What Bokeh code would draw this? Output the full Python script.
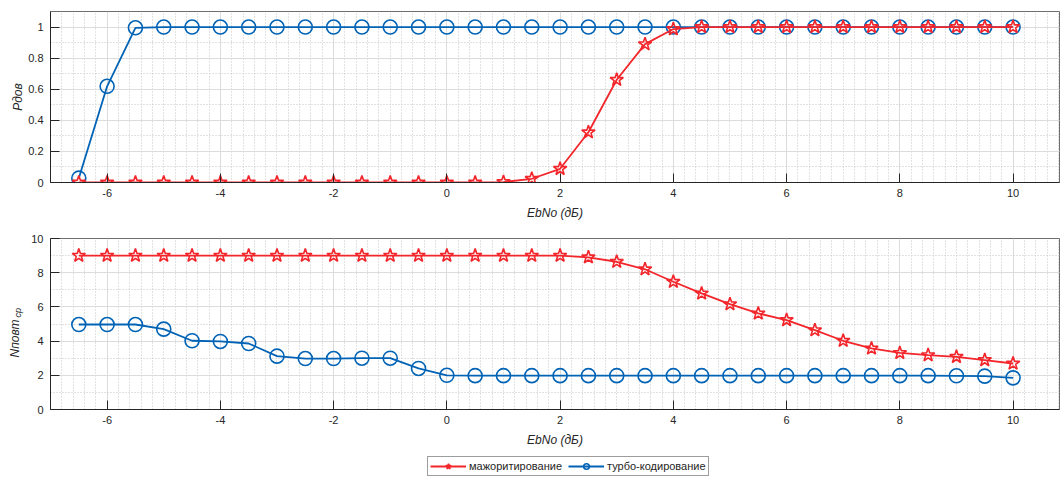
import numpy as np
from bokeh.plotting import figure
from bokeh.layouts import column
from bokeh.models import (FixedTicker, Legend, LegendItem, Title, Range1d)
from bokeh.embed import file_html
from bokeh.resources import INLINE

# ---------------- data ----------------
ebno = [-6.5, -6, -5.5, -5, -4.5, -4, -3.5, -3, -2.5, -2, -1.5, -1, -0.5, 0,
        0.5, 1, 1.5, 2, 2.5, 3, 3.5, 4, 4.5, 5, 5.5, 6, 6.5, 7, 7.5, 8, 8.5,
        9, 9.5, 10]

p_major = [0, 0, 0, 0, 0, 0, 0, 0, 0, 0, 0, 0, 0, 0,
           0, 0.003, 0.024, 0.088, 0.323, 0.661, 0.89, 0.987, 1, 1, 1, 1, 1, 1, 1, 1, 1,
           1, 1, 1]
p_turbo = [0.028, 0.619, 0.995, 1, 1, 1, 1, 1, 1, 1, 1, 1, 1, 1,
           1, 1, 1, 1, 1, 1, 1, 1, 1, 1, 1, 1, 1, 1, 1, 1, 1,
           1, 1, 1]

n_major = [9, 9, 9, 9, 9, 9, 9, 9, 9, 9, 9, 9, 9, 9,
           9, 9, 9, 9, 8.9, 8.64, 8.2, 7.47, 6.79, 6.16, 5.62, 5.23, 4.64, 4.02, 3.57, 3.31, 3.18,
           3.08, 2.89, 2.69]
n_turbo = [4.97, 4.97, 4.97, 4.7, 4.02, 3.98, 3.86, 3.12, 2.98, 2.98, 3.0, 3.0, 2.4, 2.0,
           1.98, 1.98, 1.98, 1.98, 1.98, 1.98, 1.98, 1.98, 1.98, 1.98, 1.98, 1.98, 1.98, 1.98, 1.98, 1.98, 1.98,
           1.97, 1.95, 1.85]

x_ticks = [-6, -4, -2, 0, 2, 4, 6, 8, 10]
p_ticks = [0, 0.2, 0.4, 0.6, 0.8, 1]
n_ticks = [0, 2, 4, 6, 8, 10]

series_names = ["мажоритирование", "турбо-кодирование"]
x_label = "EbNo (дБ)"
p_label = "Pдов"
n_label_main = "Nповт"
n_label_sub = "ср"

RED = "#F2262B"
BLUE = "#0063B5"
FONT = "Liberation Sans"
TXT = "#262626"

X0, X1 = -7, 10.82


def style(p, yticks, yminor):
    p.xaxis.ticker = FixedTicker(ticks=x_ticks, minor_ticks=list(np.round(np.arange(-7, 11.01, 0.2), 2)))
    p.yaxis.ticker = FixedTicker(ticks=yticks, minor_ticks=yminor)
    p.xaxis.major_label_overrides = {t: str(t) for t in x_ticks if t < 0}
    for ax in p.xaxis + p.yaxis:
        ax.major_tick_in = 9
        ax.major_tick_out = 0
        ax.minor_tick_in = 0
        ax.minor_tick_out = 0
        ax.axis_line_color = TXT
        ax.major_tick_line_color = TXT
        ax.major_label_text_font = FONT
        ax.major_label_text_font_size = "11px"
        ax.major_label_text_color = TXT
        ax.axis_label_text_font = FONT
        ax.axis_label_text_font_size = "12px"
        ax.axis_label_text_font_style = "italic"
        ax.axis_label_text_color = TXT
    p.xaxis.major_label_standoff = 6
    p.yaxis.major_label_standoff = 7
    p.xaxis.axis_label_standoff = 6
    p.yaxis.axis_label_standoff = 0
    for g in (p.xgrid[0], p.ygrid[0]):
        g.grid_line_color = "#DCDCDC"
        g.grid_line_width = 1
        g.minor_grid_line_color = "#C4C4C4"
        g.minor_grid_line_dash = "1 2"
        g.minor_grid_line_width = 1
    p.outline_line_color = "#6E6E6E"
    p.outline_line_width = 1
    p.background_fill_color = "white"
    p.border_fill_color = "white"


def add_series(p, y_turbo, y_major):
    rb = p.line(ebno, y_turbo, line_color=BLUE, line_width=1.8)
    cb = p.scatter(ebno, y_turbo, marker="circle", size=14, line_color=BLUE, line_width=1.6, fill_alpha=0)
    rr = p.line(ebno, y_major, line_color=RED, line_width=1.8)
    cr = p.scatter(ebno, y_major, marker="star", size=14, line_color=RED, line_width=1.6, fill_alpha=0)
    return rb, cb, rr, cr


# ---------------- top plot ----------------
p1 = figure(width=1060, height=227, output_backend="svg", toolbar_location=None,
            x_range=Range1d(X0, X1), y_range=Range1d(0, 1.1),
            min_border_left=50, min_border_right=1, min_border_top=11, min_border_bottom=45)
p1.xaxis.axis_label = x_label
p1.yaxis.axis_label = p_label
style(p1, p_ticks, list(np.round(np.arange(0, 1.11, 0.1), 2)))
p1.yaxis[0].major_label_overrides = {0: "0", 1: "1"}
add_series(p1, p_turbo, p_major)

# ---------------- bottom plot ----------------
p2 = figure(width=1060, height=227, output_backend="svg", toolbar_location=None,
            x_range=Range1d(X0, X1), y_range=Range1d(0, 10),
            min_border_left=50, min_border_right=1, min_border_top=11, min_border_bottom=45)
p2.xaxis.axis_label = x_label
style(p2, n_ticks, list(range(0, 11)))
add_series(p2, n_turbo, n_major)

# y label with subscript (as side titles)
sub_t = Title(text=n_label_sub, align="left", offset=92, standoff=12,
              text_font=FONT, text_font_size="9px", text_font_style="italic",
              text_color=TXT)
main_t = Title(text=n_label_main, align="left", offset=52, standoff=-34,
               text_font=FONT, text_font_size="12px", text_font_style="italic",
               text_color=TXT)
p2.add_layout(sub_t, "left")
p2.add_layout(main_t, "left")

# ---------------- legend strip ----------------
# the series are drawn here too, but outside this strip's visible range,
# only so that the legend can show their line and marker styles
p3 = figure(width=1060, height=29, output_backend="svg", toolbar_location=None,
            x_range=Range1d(100, 101), y_range=Range1d(100, 101),
            min_border_left=0, min_border_right=0, min_border_top=0, min_border_bottom=0)
p3.axis.visible = False
p3.grid.visible = False
p3.outline_line_color = None
lb, sb, lr, sr = add_series(p3, n_turbo, n_major)

legend = Legend(items=[LegendItem(label=series_names[0], renderers=[lr, sr]),
                       LegendItem(label=series_names[1], renderers=[lb, sb])],
                orientation="horizontal", location=(377, 7),
                label_text_font=FONT, label_text_font_size="11px", label_text_color=TXT,
                glyph_width=36, glyph_height=14, label_height=14, label_standoff=3,
                spacing=6, padding=2, margin=0,
                border_line_color="#3C3C3C", border_line_width=1,
                background_fill_alpha=1)
p3.add_layout(legend)

layout = column(p1, p2, p3, spacing=0)
open("out.html", "w").write(file_html(layout, INLINE))
